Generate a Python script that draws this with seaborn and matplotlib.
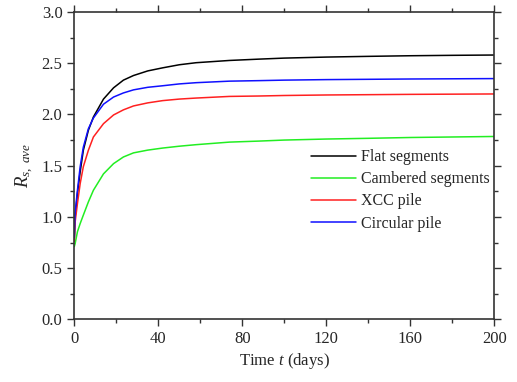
import numpy as np
import pandas as pd
import matplotlib
matplotlib.use("Agg")
import matplotlib.pyplot as plt
import seaborn as sns
from matplotlib.ticker import MultipleLocator

# Data
t_days = [0, 0.4, 1.5, 2.8, 4.3, 6.7, 9.1, 13.9, 18.7, 23.4, 28.2, 35, 42.1, 50, 58,
          73.9, 88, 100, 120, 140, 160, 180, 200]
flat = [0.78, 1.00, 1.23, 1.44, 1.65, 1.845, 1.975, 2.15, 2.26, 2.335, 2.38, 2.425, 2.455,
        2.485, 2.505, 2.527, 2.54, 2.55, 2.56, 2.567, 2.573, 2.577, 2.58]
cambered = [0.71, 0.74, 0.855, 0.935, 1.017, 1.146, 1.26, 1.42, 1.52, 1.585, 1.625, 1.652, 1.672,
            1.69, 1.705, 1.73, 1.74, 1.75, 1.76, 1.767, 1.775, 1.78, 1.785]
xcc = [0.76, 0.95, 1.13, 1.325, 1.49, 1.65, 1.78, 1.91, 1.995, 2.045, 2.083, 2.113, 2.135,
       2.15, 2.16, 2.176, 2.18, 2.185, 2.19, 2.193, 2.196, 2.198, 2.20]
circular = [0.80, 1.04, 1.26, 1.49, 1.68, 1.86, 1.965, 2.10, 2.17, 2.21, 2.24, 2.265, 2.28,
            2.298, 2.31, 2.325, 2.33, 2.335, 2.34, 2.343, 2.346, 2.348, 2.35]
series_names = ["Flat segments", "Cambered segments", "XCC pile", "Circular pile"]
colors = ["#000000", "#22ee22", "#ff2020", "#1010ff"]

frames = []
for name, vals in zip(series_names, [flat, cambered, xcc, circular]):
    frames.append(pd.DataFrame({"t": t_days, "R": vals, "series": name}))
df = pd.concat(frames, ignore_index=True)

sns.set_style("ticks")
plt.rcParams["font.family"] = ["Liberation Serif", "DejaVu Serif"]
plt.rcParams["mathtext.fontset"] = "custom"
plt.rcParams["mathtext.it"] = "Liberation Serif:italic"
plt.rcParams["mathtext.rm"] = "Liberation Serif"

fig = plt.figure(figsize=(5.17, 3.82), dpi=100)
ax = fig.add_axes([0.1437, 0.164, 0.8123, 0.8046])

sns.lineplot(data=df, x="t", y="R", hue="series", hue_order=series_names,
             palette=colors, linewidth=1.1, ax=ax, estimator=None, sort=False)

ax.set_xlim(0, 200)
ax.set_ylim(0, 3.0)
ax.xaxis.set_major_locator(MultipleLocator(40))
ax.xaxis.set_minor_locator(MultipleLocator(20))
ax.yaxis.set_major_locator(MultipleLocator(0.5))
ax.yaxis.set_minor_locator(MultipleLocator(0.25))
ax.set_yticks(np.arange(0, 3.01, 0.5))
ax.set_yticklabels([f"{v:.1f}" for v in np.arange(0, 3.01, 0.5)])

ax.tick_params(which="both", direction="out", top=True, right=True,
               labeltop=False, labelright=False, color="#333333", width=1.0)
ax.tick_params(which="major", length=5, labelsize=12)
ax.tick_params(which="minor", length=3)
for s in ax.spines.values():
    s.set_visible(True)
    s.set_linewidth(1.2)
    s.set_color("#333333")

ax.set_xlabel("Time $t$ (days)", fontsize=12, labelpad=3)
ax.set_ylabel(r"$R_{s,\ ave}$", fontsize=13.5, labelpad=4)

leg = ax.legend(loc="upper left", bbox_to_anchor=(0.549, 0.574), frameon=False,
                fontsize=11.5, handlelength=2.8, handletextpad=0.3,
                labelspacing=0.38, borderaxespad=0)

fig.savefig("out.png", dpi=100)
